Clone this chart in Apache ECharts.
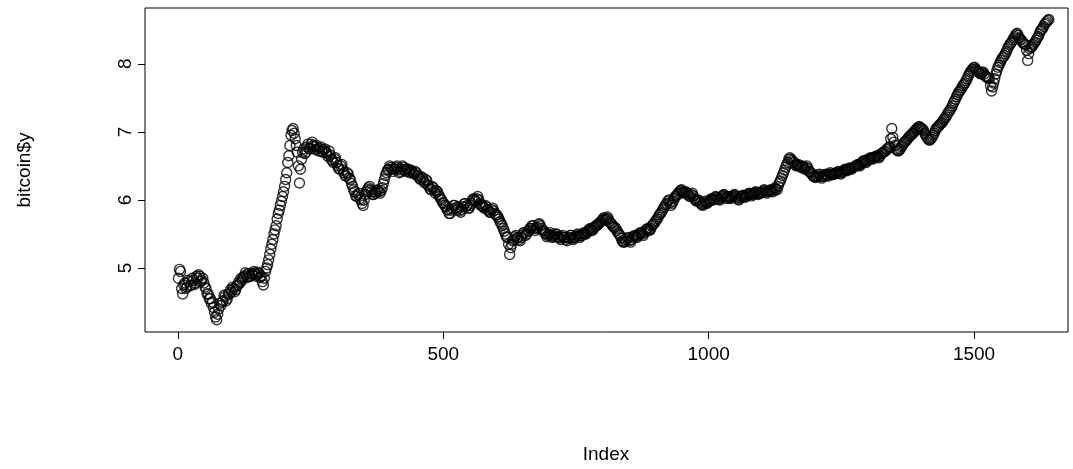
<!DOCTYPE html>
<html><head><meta charset="utf-8">
<script src="https://cdn.jsdelivr.net/npm/echarts@6/dist/echarts.min.js"></script>
<style>html,body{margin:0;padding:0;background:#fff}#c{width:1073px;height:469px}</style>
</head><body><div id="c"></div>
<script>
// bitcoin$y values, read every 2nd index starting at index 1
var indexStart = 1;
var indexStep = 2;
var yValues = [
4.85,4.98,4.95,4.70,4.62,4.75,4.78,4.70,4.72,4.82,4.80,4.74,4.75,4.85,4.82,4.76,4.78,4.88,4.85,4.90,
4.88,4.80,4.82,4.85,4.78,4.72,4.70,4.62,4.62,4.55,4.55,4.48,4.50,4.42,4.35,4.28,4.24,4.32,4.40,4.48,
4.45,4.50,4.52,4.60,4.58,4.52,4.55,4.62,4.62,4.68,4.65,4.72,4.70,4.65,4.68,4.74,4.75,4.80,4.78,4.85,
4.82,4.86,4.88,4.93,4.90,4.86,4.92,4.88,4.88,4.92,4.90,4.95,4.93,4.88,4.90,4.94,4.92,4.86,4.88,4.80,
4.75,4.85,4.95,5.00,5.05,5.12,5.20,5.28,5.35,5.42,5.50,5.56,5.62,5.72,5.80,5.85,5.92,5.98,6.05,6.12,
6.20,6.30,6.40,6.55,6.65,6.80,6.95,7.02,7.05,6.98,6.90,6.80,6.70,6.50,6.25,6.45,6.60,6.70,6.75,6.68,
6.70,6.78,6.82,6.76,6.75,6.82,6.85,6.80,6.78,6.74,6.80,6.75,6.72,6.76,6.78,6.72,6.70,6.74,6.75,6.70,
6.68,6.64,6.72,6.66,6.60,6.58,6.55,6.60,6.62,6.55,6.50,6.46,6.45,6.50,6.52,6.44,6.40,6.36,6.35,6.40,
6.38,6.32,6.30,6.24,6.20,6.15,6.12,6.06,6.05,6.08,6.10,6.02,6.00,5.95,5.92,6.00,6.08,6.12,6.15,6.18,
6.20,6.15,6.12,6.08,6.08,6.12,6.10,6.14,6.15,6.12,6.10,6.14,6.18,6.24,6.30,6.36,6.40,6.44,6.45,6.50,
6.48,6.45,6.42,6.46,6.45,6.48,6.50,6.45,6.40,6.42,6.45,6.50,6.48,6.44,6.42,6.46,6.45,6.42,6.40,6.44,
6.42,6.40,6.38,6.42,6.40,6.36,6.35,6.32,6.30,6.34,6.32,6.28,6.25,6.30,6.28,6.22,6.20,6.16,6.15,6.20,
6.18,6.14,6.10,6.14,6.12,6.08,6.05,6.02,6.00,5.96,5.95,5.92,5.90,5.86,5.85,5.80,5.80,5.85,5.88,5.92,
5.92,5.88,5.85,5.90,5.88,5.84,5.82,5.86,5.90,5.94,5.95,5.90,5.92,5.88,5.88,5.92,5.95,6.00,6.02,6.00,
5.98,6.02,6.05,6.00,5.95,5.92,5.92,5.90,5.88,5.92,5.90,5.86,5.85,5.82,5.82,5.86,5.88,5.84,5.80,5.78,
5.78,5.75,5.72,5.68,5.65,5.62,5.58,5.54,5.50,5.46,5.45,5.35,5.20,5.30,5.35,5.40,5.42,5.46,5.48,5.44,
5.45,5.42,5.40,5.45,5.48,5.52,5.52,5.48,5.50,5.54,5.55,5.58,5.58,5.62,5.62,5.58,5.55,5.58,5.60,5.64,
5.65,5.62,5.58,5.55,5.55,5.52,5.50,5.46,5.48,5.50,5.52,5.48,5.45,5.46,5.48,5.50,5.50,5.46,5.45,5.44,
5.42,5.46,5.48,5.45,5.45,5.42,5.40,5.44,5.45,5.48,5.48,5.44,5.42,5.44,5.46,5.48,5.50,5.47,5.45,5.47,
5.48,5.50,5.52,5.50,5.50,5.53,5.55,5.57,5.58,5.56,5.55,5.58,5.60,5.62,5.62,5.64,5.65,5.67,5.68,5.70,
5.72,5.74,5.70,5.72,5.75,5.72,5.68,5.66,5.65,5.62,5.60,5.60,5.58,5.55,5.52,5.50,5.48,5.44,5.40,5.38,
5.38,5.40,5.42,5.44,5.45,5.40,5.38,5.42,5.45,5.47,5.48,5.46,5.45,5.48,5.50,5.52,5.52,5.50,5.48,5.52,
5.55,5.57,5.58,5.56,5.55,5.58,5.62,5.64,5.65,5.68,5.70,5.72,5.75,5.78,5.80,5.82,5.85,5.88,5.90,5.93,
5.95,5.98,6.00,5.96,5.92,5.95,5.98,6.02,6.05,6.06,6.08,6.10,6.12,6.14,6.15,6.12,6.10,6.11,6.12,6.10,
6.08,6.06,6.05,6.08,6.10,6.06,6.02,6.00,5.98,5.99,6.00,5.97,5.95,5.93,5.92,5.95,5.98,5.96,5.95,5.97,
5.98,6.00,6.02,6.01,6.00,6.03,6.05,6.04,6.02,6.01,6.00,6.03,6.05,6.07,6.08,6.05,6.02,6.04,6.05,6.03,
6.02,6.04,6.05,6.07,6.08,6.05,6.03,6.01,6.00,6.03,6.05,6.06,6.07,6.05,6.04,6.06,6.08,6.09,6.10,6.08,
6.06,6.08,6.09,6.11,6.12,6.10,6.08,6.09,6.10,6.11,6.12,6.14,6.15,6.12,6.10,6.12,6.13,6.14,6.15,6.13,
6.12,6.15,6.18,6.16,6.15,6.20,6.25,6.28,6.32,6.36,6.40,6.44,6.48,6.52,6.55,6.60,6.62,6.60,6.58,6.56,
6.55,6.52,6.50,6.51,6.52,6.50,6.48,6.49,6.50,6.47,6.45,6.48,6.50,6.46,6.42,6.41,6.40,6.37,6.35,6.34,
6.33,6.34,6.35,6.37,6.38,6.35,6.32,6.34,6.35,6.37,6.38,6.36,6.35,6.38,6.40,6.38,6.37,6.38,6.38,6.39,
6.40,6.41,6.42,6.40,6.38,6.40,6.42,6.44,6.45,6.44,6.43,6.45,6.47,6.46,6.45,6.47,6.48,6.49,6.50,6.51,
6.52,6.51,6.50,6.53,6.55,6.57,6.58,6.56,6.55,6.58,6.60,6.61,6.62,6.61,6.60,6.62,6.63,6.64,6.65,6.63,
6.62,6.65,6.68,6.69,6.70,6.71,6.72,6.74,6.75,6.77,6.78,6.90,7.05,6.92,6.85,6.80,6.75,6.73,6.72,6.73,
6.75,6.78,6.80,6.83,6.85,6.86,6.88,6.90,6.92,6.94,6.95,6.97,6.98,7.00,7.02,7.04,7.05,7.07,7.08,7.06,
7.05,7.04,7.02,6.98,6.95,6.92,6.90,6.88,6.88,6.90,6.92,6.95,6.98,7.02,7.05,7.07,7.08,7.10,7.12,7.13,
7.15,7.18,7.20,7.22,7.25,7.28,7.30,7.32,7.35,7.38,7.42,7.45,7.48,7.52,7.55,7.58,7.60,7.62,7.65,7.68,
7.70,7.72,7.75,7.78,7.82,7.85,7.88,7.90,7.92,7.94,7.95,7.92,7.90,7.89,7.88,7.86,7.85,7.87,7.88,7.85,
7.82,7.81,7.80,7.79,7.78,7.68,7.60,7.66,7.72,7.78,7.85,7.90,7.95,7.98,8.02,8.05,8.08,8.10,8.12,8.15,
8.18,8.22,8.25,8.28,8.30,8.32,8.35,8.38,8.40,8.43,8.45,8.42,8.38,8.36,8.35,8.32,8.30,8.29,8.28,8.20,
8.05,8.15,8.22,8.24,8.25,8.28,8.30,8.32,8.35,8.38,8.40,8.44,8.48,8.50,8.52,8.55,8.58,8.60,8.62,8.64,
8.65
];
var xTicks = [0, 500, 1000, 1500];
var yTicks = [5, 6, 7, 8];
var xTitle = 'Index';
var yTitle = 'bitcoin$y';

var points = yValues.map(function (v, i) { return [indexStart + i * indexStep, v]; });
var font = 'Liberation Sans, Arial, sans-serif';
var fs = 19;
var chart = echarts.init(document.getElementById('c'), null, {renderer: 'canvas'});
chart.setOption({
  animation: false,
  backgroundColor: '#ffffff',
  grid: {left: 145, right: 5, top: 8, bottom: 137, show: true, borderColor: '#000', borderWidth: 1, backgroundColor: 'transparent'},
  xAxis: {
    type: 'value', min: -62, max: 1677,
    axisLine: {show: false, onZero: false},
    splitLine: {show: false},
    axisTick: {show: true, inside: false, length: 7, customValues: xTicks, lineStyle: {color: '#000', width: 1}},
    axisLabel: {show: true, customValues: xTicks, margin: 13, color: '#000', fontSize: fs, fontFamily: font,
      formatter: function (v) { return String(v); }}
  },
  yAxis: {
    type: 'value', min: 4.06, max: 8.82,
    axisLine: {show: false, onZero: false},
    splitLine: {show: false},
    axisTick: {show: true, inside: false, length: 7, customValues: yTicks, lineStyle: {color: '#000', width: 1}},
    axisLabel: {show: true, customValues: yTicks, rotate: 90, margin: 10, color: '#000', fontSize: fs, fontFamily: font,
      formatter: function (v) { return String(v); }}
  },
  graphic: [
    {type: 'text', x: 606, y: 455, style: {text: xTitle, fill: '#000', font: fs + 'px ' + font, textAlign: 'center', textVerticalAlign: 'middle'}},
    {type: 'text', x: 25, y: 170, rotation: Math.PI / 2, style: {text: yTitle, fill: '#000', font: fs + 'px ' + font, textAlign: 'center', textVerticalAlign: 'middle'}}
  ],
  series: [{
    type: 'scatter',
    data: points,
    symbol: 'circle',
    symbolSize: 10,
    itemStyle: {color: 'rgba(0,0,0,0)', borderColor: '#000', borderWidth: 1.4},
    emphasis: {disabled: true}
  }]
});
</script></body></html>
